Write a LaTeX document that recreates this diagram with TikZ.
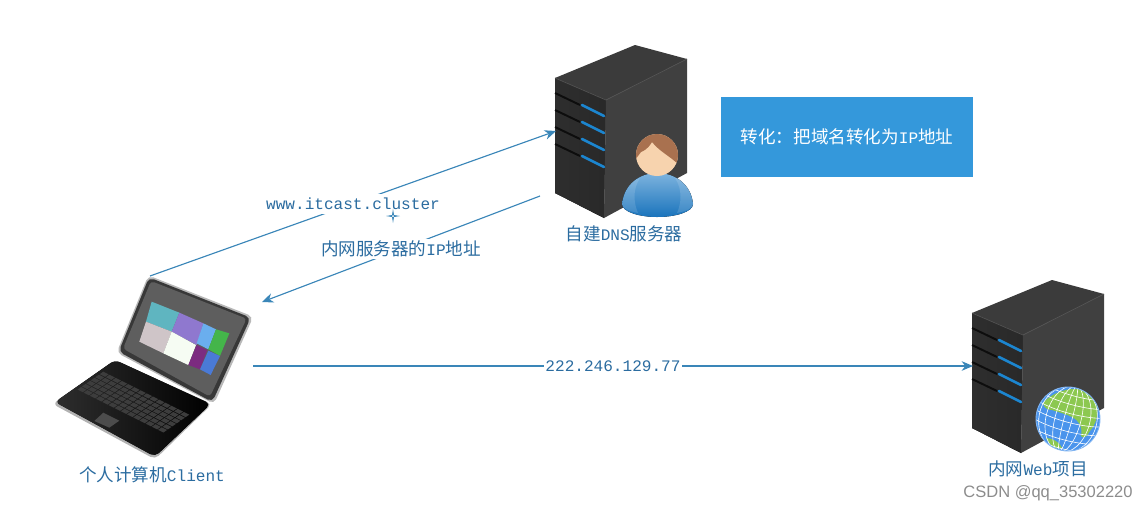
\documentclass[tikz,border=0pt]{standalone}
\usepackage{fontspec}
\setmainfont{Noto Sans CJK SC}
\setmonofont[Scale=0.915]{Liberation Mono}
\newfontfamily\marksans{Liberation Sans}
\usetikzlibrary{arrows.meta}
\definecolor{linkblue}{HTML}{3A86B8}
\definecolor{textblue}{HTML}{2B6CA0}
\definecolor{boxblue}{HTML}{3498DB}
\definecolor{HeadFace}{HTML}{F7D3AE}
\definecolor{HeadHair}{HTML}{A9714F}
\definecolor{globeblue}{HTML}{4A94EC}
\definecolor{globegreen}{HTML}{8CC850}
\definecolor{bodytop}{HTML}{7DB3DE}
\definecolor{bodylow}{HTML}{1A74BC}
\definecolor{slitblue}{HTML}{1C86D0}
\definecolor{tileteal}{HTML}{5FB5C0}
\definecolor{tilepurple}{HTML}{8F78CF}
\definecolor{tilesky}{HTML}{6AAEEE}
\definecolor{tilegreen}{HTML}{44B54A}
\definecolor{tilerose}{HTML}{CFC5C8}
\definecolor{tilewhite}{HTML}{F6FCF3}
\definecolor{tilemagenta}{HTML}{7C2B80}
\definecolor{tileblue}{HTML}{4A7AD6}
\tikzset{
    link/.style={draw=linkblue, line width=0.65pt, -{Stealth[length=6.5pt,width=5.5pt]}},
    lbl/.style={fill=white, inner xsep=1pt, inner ysep=0pt, minimum height=0.4cm, text=textblue, font=\fontsize{10}{12}\selectfont},
    captext/.style={text=textblue, inner sep=0pt, font=\fontsize{10}{12}\selectfont},
    servercase/.pic={
        \fill[black!77] (0,0) -- (80,-33) -- (132,-19) -- (51,22) -- cycle;
        \fill[left color=black!82, middle color=black!74, right color=black!84] (0,0) -- (51,22) -- (49,140) -- (0,115) -- cycle;
        \fill[black!75] (51,22) -- (132,-19) -- (132,95) -- (49,140) -- cycle;
        \draw[black!68, line width=0.4pt] (0,0) -- (51,22) -- (132,-19);
        \foreach \k in {0,1,2,3} {
            \draw[black!95, line width=1.1pt] (0,15+17*\k) -- (25,27+17*\k);
            \draw[slitblue, line width=1.5pt, line cap=round] (27,27+17*\k) -- (49,38+17*\k);
        }
    }
}
\begin{document}
\begin{tikzpicture}[x=0.02cm, y=-0.02cm]
    \useasboundingbox (0,0) rectangle (1148,511);

    % servers
    \pic at (555,78) {servercase};
    \pic at (972,313) {servercase};

    % person
    \fill[top color=bodytop, bottom color=bodylow] (622,204) .. controls (624,184) and (640,173) .. (657,173) .. controls (675,173) and (691,184) .. (693,204) .. controls (693,212) and (675,217) .. (657,217) .. controls (640,217) and (622,212) .. (622,204) -- cycle;
    \fill[white, opacity=0.13] (622,204) .. controls (624,190) and (632,180) .. (640,178) .. controls (632,190) and (634,204) .. (638,213) .. controls (628,211) and (622,208) .. (622,204) -- cycle;
    \fill[white, opacity=0.13] (693,204) .. controls (691,190) and (683,180) .. (675,178) .. controls (683,190) and (681,204) .. (677,213) .. controls (687,211) and (693,208) .. (693,204) -- cycle;
    \fill[HeadFace] (657,155) circle (21);
    \begin{scope}
        \clip (657,155) circle (21);
        \fill[HeadHair] (635,134) -- (679,134) -- (679,165) .. controls (670,156) and (660,152) .. (652,142) .. controls (650,145) and (648,149) .. (641,152) -- (635,160) -- cycle;
    \end{scope}

    % globe
    \fill[globeblue] (1068,419) circle (32);
    \begin{scope}
        \clip (1068,419) circle (32);
        \fill[globegreen] (1043,403) .. controls (1052,392) and (1075,384) .. (1090,392) .. controls (1100,400) and (1100,420) .. (1090,431) .. controls (1087,437) and (1083,439) .. (1081,436) .. controls (1083,426) and (1078,420) .. (1072,417) .. controls (1066,414) and (1058,412) .. (1052,410) .. controls (1047,410) and (1044,408) .. (1043,403) -- cycle;
        \fill[globegreen] (1046,438) .. controls (1052,438) and (1060,442) .. (1062,448) .. controls (1056,450) and (1050,446) .. (1046,438) -- cycle;
        \begin{scope}[rotate around={-15:(1068,419)}]
            \foreach \r in {4,13,22,29} {
                \draw[white, line width=0.35pt] (1068,419) ellipse ({\r} and 34);
            }
            \foreach \d in {-26,-17,-8,1,10,19,28} {
                \draw[white, line width=0.35pt] (1030,419+\d-3) .. controls (1050,419+\d+4) and (1086,419+\d+4) .. (1106,419+\d-3);
            }
        \end{scope}
    \end{scope}
    \draw[globeblue!70!white, line width=0.5pt] (1068,419) circle (32);

    % laptop, in its own pixel grid
    \begin{scope}[shift={(40,260)}, x=0.00667cm, y=-0.00667cm]
        \fill[black!30, rounded corners=3pt] (225,300) -- (516,432) -- (345,598) -- (38,432) -- cycle;
        \fill[left color=black!82, right color=black, rounded corners=3pt] (225,300) -- (512,432) -- (345,590) -- (45,426) -- cycle;
        \foreach \i in {0,...,5} {
            \foreach \j in {0,...,13} {
                \fill[black!76] ({190+18.6*\j-13.3*\i},{335+9.3*\j+9.2*\i}) -- ++(16,8) -- ++(-11,7.6) -- ++(-16,-8) -- cycle;
            }
        }
        \fill[black!70] (190,458) -- (238,482) -- (208,503) -- (163,483) -- cycle;
        \fill[black!28, rounded corners=3pt] (325,46) -- (640,170) -- (522,432) -- (230,278) -- cycle;
        \fill[black!78, rounded corners=3pt] (327,52) -- (632,173) -- (517,426) -- (236,275) -- cycle;
        \fill[black!63, rounded corners=2pt] (333,63) -- (620,176) -- (510,410) -- (249,266) -- cycle;
        \fill[tileteal] (335,125) -- (418,158) -- (395,215) -- (318,185) -- cycle;
        \fill[tilepurple] (418,158) -- (490,190) -- (470,255) -- (395,215) -- cycle;
        \fill[tilesky] (490,190) -- (528,208) -- (505,268) -- (470,250) -- cycle;
        \fill[tilegreen] (528,208) -- (568,220) -- (540,288) -- (505,268) -- cycle;
        \fill[tilerose] (318,185) -- (395,215) -- (370,280) -- (298,245) -- cycle;
        \fill[tilewhite] (395,215) -- (468,255) -- (445,315) -- (370,280) -- cycle;
        \fill[tilemagenta] (470,255) -- (502,270) -- (480,328) -- (445,315) -- cycle;
        \fill[tileblue] (505,272) -- (540,288) -- (512,345) -- (480,328) -- cycle;
    \end{scope}

    % captions and box
    \node (dnscap) at (624,234) [captext] {自建\texttt{DNS}服务器};
    \node (webcap) at (1038,469) [captext] {内网\texttt{Web}项目};
    \node (pccap) at (152,475) [captext] {个人计算机\texttt{Client}};
    \node (note) at (847,137) [fill=boxblue, text=white, minimum width=5.04cm, minimum height=1.6cm, inner sep=0pt, font=\fontsize{10}{12}\selectfont] {转化：把域名转化为\texttt{IP}地址};
    \node (csdn) at (1048,493) [text=black!45, inner sep=0pt, font=\marksans\fontsize{9.4}{11}\selectfont] {CSDN @qq\_35302220};

    % connector ends
    \coordinate (pctop) at (150,276);
    \coordinate (dnsin) at (556,131);
    \coordinate (dnsout) at (540,196);
    \coordinate (pcin) at (262,302);
    \coordinate (pcright) at (253,366);
    \coordinate (webin) at (973,366);

    \draw[link] (pctop) -- node[lbl] {\texttt{www.itcast.cluster}} (dnsin);
    \draw[link] (dnsout) -- node[lbl] {内网服务器的\texttt{IP}地址} (pcin);
    \draw[link] (pcright) -- node[lbl, minimum height=0.2cm] {\texttt{222.246.129.77}} (webin);

    % small marker under the first label
    \fill[linkblue] (393,209) -- (394,215) -- (400,216) -- (394,217) -- (393,223) -- (392,217) -- (386,216) -- (392,215) -- cycle;
    \fill[white] (393,216) circle (1);
\end{tikzpicture}
\end{document}
